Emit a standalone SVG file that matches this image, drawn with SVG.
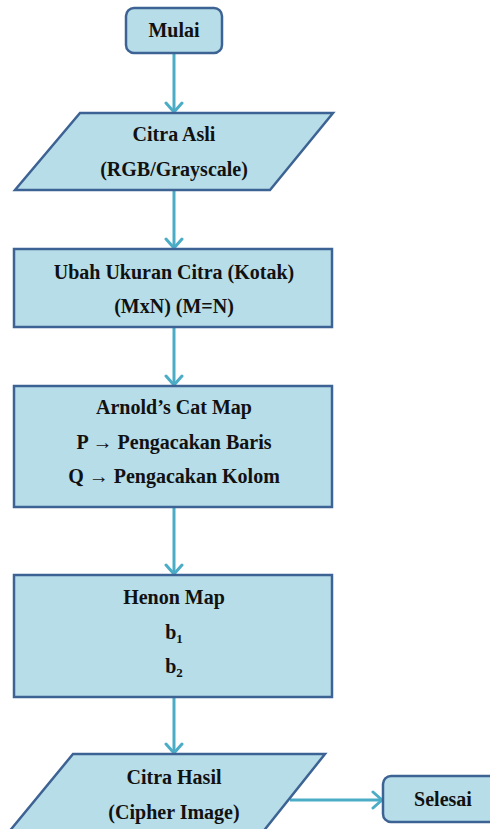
<svg xmlns="http://www.w3.org/2000/svg" width="490" height="829" viewBox="0 0 490 829">
  <style>
    .node { fill: #b7dde8; stroke: #3d6394; stroke-width: 2.5; }
    .lbl { font-family: 'Liberation Serif', 'Times New Roman', 'DejaVu Serif', serif; font-weight: 700; font-size: 20px; fill: #111; text-anchor: middle; }
    .sub { font-size: 13px; }
    .edge { fill: none; stroke: #4bacc6; stroke-width: 3; }
  </style>
  <defs>
    <marker id="arrow" markerUnits="userSpaceOnUse" viewBox="0 0 20 20" refX="18" refY="10" markerWidth="20" markerHeight="20" orient="auto">
      <path d="M9,2 L18,10 L9,18" fill="none" stroke="#4bacc6" stroke-width="3" stroke-linecap="round" stroke-linejoin="round"/>
    </marker>
  </defs>

  <g id="connectors">
    <path class="edge" d="M174,53 L174,112" marker-end="url(#arrow)"/>
    <path class="edge" d="M174,190 L174,248" marker-end="url(#arrow)"/>
    <path class="edge" d="M174,327 L174,385" marker-end="url(#arrow)"/>
    <path class="edge" d="M174,507 L174,574" marker-end="url(#arrow)"/>
    <path class="edge" d="M174,697 L174,753" marker-end="url(#arrow)"/>
    <path class="edge" d="M290,800 L382,800" marker-end="url(#arrow)"/>
  </g>

  <g id="mulai">
    <rect class="node" x="126" y="8" width="96" height="45" rx="8"/>
    <text class="lbl" x="174" y="37">Mulai</text>
  </g>

  <g id="citra-asli">
    <polygon class="node" points="80,113 333,113 270,190 15,190"/>
    <text class="lbl" x="174" y="141">Citra Asli</text>
    <text class="lbl" x="174" y="176">(RGB/Grayscale)</text>
  </g>

  <g id="ubah-ukuran">
    <rect class="node" x="14" y="249" width="318" height="78"/>
    <text class="lbl" x="174" y="279">Ubah Ukuran Citra (Kotak)</text>
    <text class="lbl" x="174" y="313">(MxN) (M=N)</text>
  </g>

  <g id="arnold">
    <rect class="node" x="14" y="386" width="318" height="121"/>
    <text class="lbl" x="174" y="414">Arnold’s Cat Map</text>
    <text class="lbl" x="174" y="449">P → Pengacakan Baris</text>
    <text class="lbl" x="174" y="483">Q → Pengacakan Kolom</text>
  </g>

  <g id="henon">
    <rect class="node" x="14" y="575" width="318" height="122"/>
    <text class="lbl" x="174" y="604">Henon Map</text>
    <text class="lbl" x="174" y="639">b<tspan class="sub" dy="4">1</tspan></text>
    <text class="lbl" x="174" y="673">b<tspan class="sub" dy="4">2</tspan></text>
  </g>

  <g id="citra-hasil">
    <polygon class="node" points="73,754 325,754 262,833 8,833"/>
    <text class="lbl" x="174" y="784">Citra Hasil</text>
    <text class="lbl" x="174" y="819">(Cipher Image)</text>
  </g>

  <g id="selesai">
    <rect class="node" x="383" y="776" width="120" height="46" rx="8"/>
    <text class="lbl" x="443" y="806">Selesai</text>
  </g>
</svg>
